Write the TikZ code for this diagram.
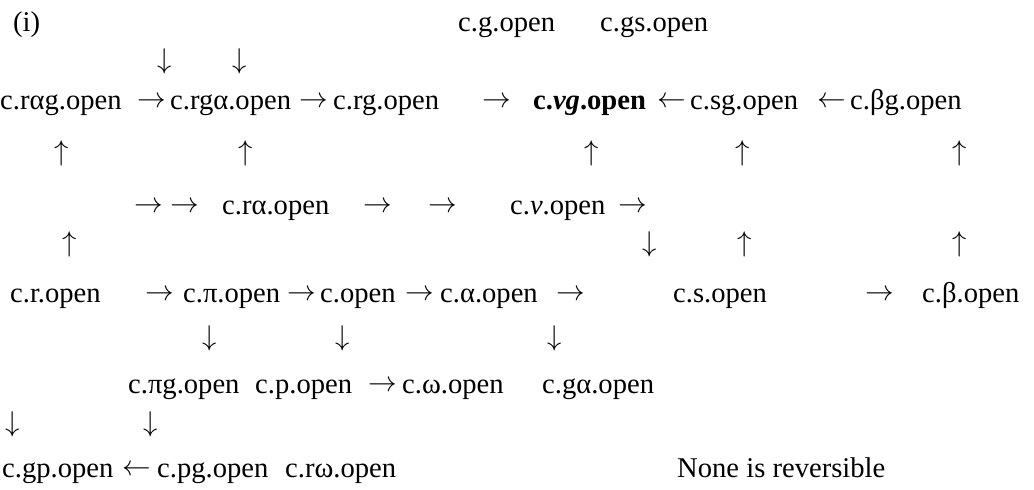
\RequirePackage{fix-cm}
\documentclass[tikz,border=0pt]{standalone}
\usepackage{fontspec}
\setmainfont{Liberation Serif}
\tikzset{
  lbl/.style={anchor=base west, inner sep=0pt, font=\fontsize{28.6}{34}\selectfont},
  arr/.style={anchor=center, inner sep=0pt, font=\fontsize{28.6}{34}\selectfont},
}
\newcommand{\ra}{$\rightarrow$}
\newcommand{\la}{$\leftarrow$}
\newcommand{\ua}{$\uparrow$}
\newcommand{\da}{$\downarrow$}
\begin{document}
\begin{tikzpicture}[x=1pt,y=-1pt]
\useasboundingbox (0,0) rectangle (1034,490);
% row 0
\node[lbl] (lab) at (13,31) {(i)};
\node[lbl] (cg) at (458,31) {c.g.open};
\node[lbl] (cgs) at (600,31) {c.gs.open};
% row 1
\node[arr] (d1a) at (165,61) {\da};
\node[arr] (d1b) at (240,61) {\da};
% row 2
\node[lbl] (crag) at (0,109) {c.rαg.open};
\node[arr] (r2a) at (152,102) {\ra};
\node[lbl] (crga) at (170,109) {c.rgα.open};
\node[arr] (r2b) at (314,102) {\ra};
\node[lbl] (crg) at (333,109) {c.rg.open};
\node[arr] (r2c) at (497,102) {\ra};
\node[lbl] (cvg) at (533,109) {\textbf{c.\textit{vg}.open}};
\node[arr] (l2a) at (672,102) {\la};
\node[lbl] (csg) at (690,109) {c.sg.open};
\node[arr] (l2b) at (832,102) {\la};
\node[lbl] (cbg) at (850,109) {c.βg.open};
% row 3
\node[arr] (u3a) at (62,153) {\ua};
\node[arr] (u3b) at (246,153) {\ua};
\node[arr] (u3c) at (592,153) {\ua};
\node[arr] (u3d) at (743,153) {\ua};
\node[arr] (u3e) at (960,153) {\ua};
% row 4
\node[arr] (r4a) at (149,207) {\ra};
\node[arr] (r4b) at (185,207) {\ra};
\node[lbl] (cra) at (222,214) {c.rα.open};
\node[arr] (r4c) at (378,207) {\ra};
\node[arr] (r4d) at (443,207) {\ra};
\node[lbl] (cv) at (510,214) {c.\textit{v}.open};
\node[arr] (r4e) at (633,207) {\ra};
% row 5
\node[arr] (u5a) at (70,244) {\ua};
\node[arr] (d5a) at (650,244) {\da};
\node[arr] (u5b) at (745,244) {\ua};
\node[arr] (u5c) at (960,244) {\ua};
% row 6
\node[lbl] (cr) at (10,302) {c.r.open};
\node[arr] (r6a) at (160,295) {\ra};
\node[lbl] (cpi) at (183,302) {c.π.open};
\node[arr] (r6b) at (302,295) {\ra};
\node[lbl] (co) at (320,302) {c.open};
\node[arr] (r6c) at (420,295) {\ra};
\node[lbl] (calpha) at (440,302) {c.α.open};
\node[arr] (r6d) at (571,295) {\ra};
\node[lbl] (cs) at (673,302) {c.s.open};
\node[arr] (r6e) at (880,295) {\ra};
\node[lbl] (cb) at (922,302) {c.β.open};
% row 7
\node[arr] (d7a) at (210,338) {\da};
\node[arr] (d7b) at (343,338) {\da};
\node[arr] (d7c) at (555,338) {\da};
% row 8
\node[lbl] (cpig) at (128,393) {c.πg.open};
\node[lbl] (cp) at (255,393) {c.p.open};
\node[arr] (r8a) at (383,386) {\ra};
\node[lbl] (cw) at (402,393) {c.ω.open};
\node[lbl] (cga) at (542,393) {c.gα.open};
% row 9
\node[arr] (d9a) at (13,424) {\da};
\node[arr] (d9b) at (151,424) {\da};
% row 10
\node[lbl] (cgp) at (2,477) {c.gp.open};
\node[arr] (l10a) at (137,470) {\la};
\node[lbl] (cpg) at (157,477) {c.pg.open};
\node[lbl] (crw) at (285,477) {c.rω.open};
\node[lbl] (none) at (677,477) {None is reversible};
\end{tikzpicture}
\end{document}
